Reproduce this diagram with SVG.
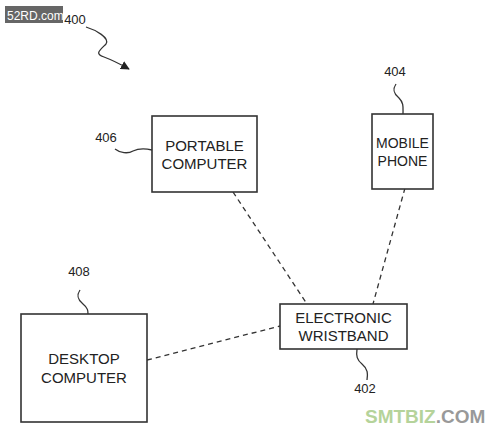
<svg xmlns="http://www.w3.org/2000/svg" width="500" height="437" viewBox="0 0 500 437">
<style>
.box{fill:#fff;stroke:#333;stroke-width:1.6}
.t{font-family:"Liberation Sans",Arial,sans-serif;font-size:15px;fill:#222;text-anchor:middle}
.s{font-size:14px}
.ref{font-family:"Liberation Sans",Arial,sans-serif;font-size:13px;fill:#222;text-anchor:middle}
.lead{fill:none;stroke:#333;stroke-width:1.3}
.dash{fill:none;stroke:#333;stroke-width:1.3;stroke-dasharray:5,4}
</style>
<defs>
<marker id="ah" viewBox="0 0 10 10" refX="9" refY="5" markerWidth="9" markerHeight="9" orient="auto" markerUnits="userSpaceOnUse">
<path d="M0,0 L10,5 L0,10 Z" fill="#222"/>
</marker>
</defs>
<rect width="500" height="437" fill="#fff"/>
<g id="connectors">
<path class="dash" d="M233,192 L307,304"/>
<path class="dash" d="M405,188 L373,304"/>
<path class="dash" d="M147,360 L280,326"/>
</g>
<g id="fig">
<text class="ref" x="75" y="24" text-anchor="middle">400</text>
<path class="lead" d="M86,27 C96,30 110,38 106,44 C100,50 94,54 104,57 C112,60 120,64 129,69" marker-end="url(#ah)"/>
</g>
<g id="n406">
<rect class="box" x="152" y="116" width="105" height="76"/>
<text class="t" x="204.5" y="151">PORTABLE</text>
<text class="t" x="204.5" y="169">COMPUTER</text>
<text class="ref" x="106" y="142">406</text>
<path class="lead" d="M115,149 C120,153 128,154 133,151 C139,148 144,148 152,150"/>
</g>
<g id="n404">
<rect class="box" x="372" y="114" width="61" height="75"/>
<text class="t s" x="402.5" y="148">MOBILE</text>
<text class="t s" x="402.5" y="166">PHONE</text>
<text class="ref" x="395" y="76">404</text>
<path class="lead" d="M396,84 C392,90 394,94 399,98 C404,103 403,108 403,114"/>
</g>
<g id="n408">
<rect class="box" x="21" y="314" width="126" height="108"/>
<text class="t" x="84" y="364">DESKTOP</text>
<text class="t" x="84" y="383">COMPUTER</text>
<text class="ref" x="79" y="276">408</text>
<path class="lead" d="M80,290 C76,296 78,300 83,304 C88,308 88,311 88,314"/>
</g>
<g id="n402">
<rect class="box" x="280" y="304" width="127" height="45"/>
<text class="t" x="343.5" y="323">ELECTRONIC</text>
<text class="t" x="343.5" y="341">WRISTBAND</text>
<text class="ref" x="365" y="393">402</text>
<path class="lead" d="M357,349 C356,356 357,360 362,364 C368,369 368,374 367,380"/>
</g>
<g id="watermarks">
<rect x="5" y="6" width="58" height="17" fill="#666"/>
<text x="7" y="19.5" font-family="'Liberation Sans',Arial,sans-serif" font-size="12" fill="#fff">52RD.com</text>
<text x="365" y="423" font-family="'Liberation Sans',Arial,sans-serif" font-size="19" font-weight="bold"><tspan fill="#b5d39a">SMTBIZ</tspan><tspan fill="#999">.COM</tspan></text>
</g>
</svg>
